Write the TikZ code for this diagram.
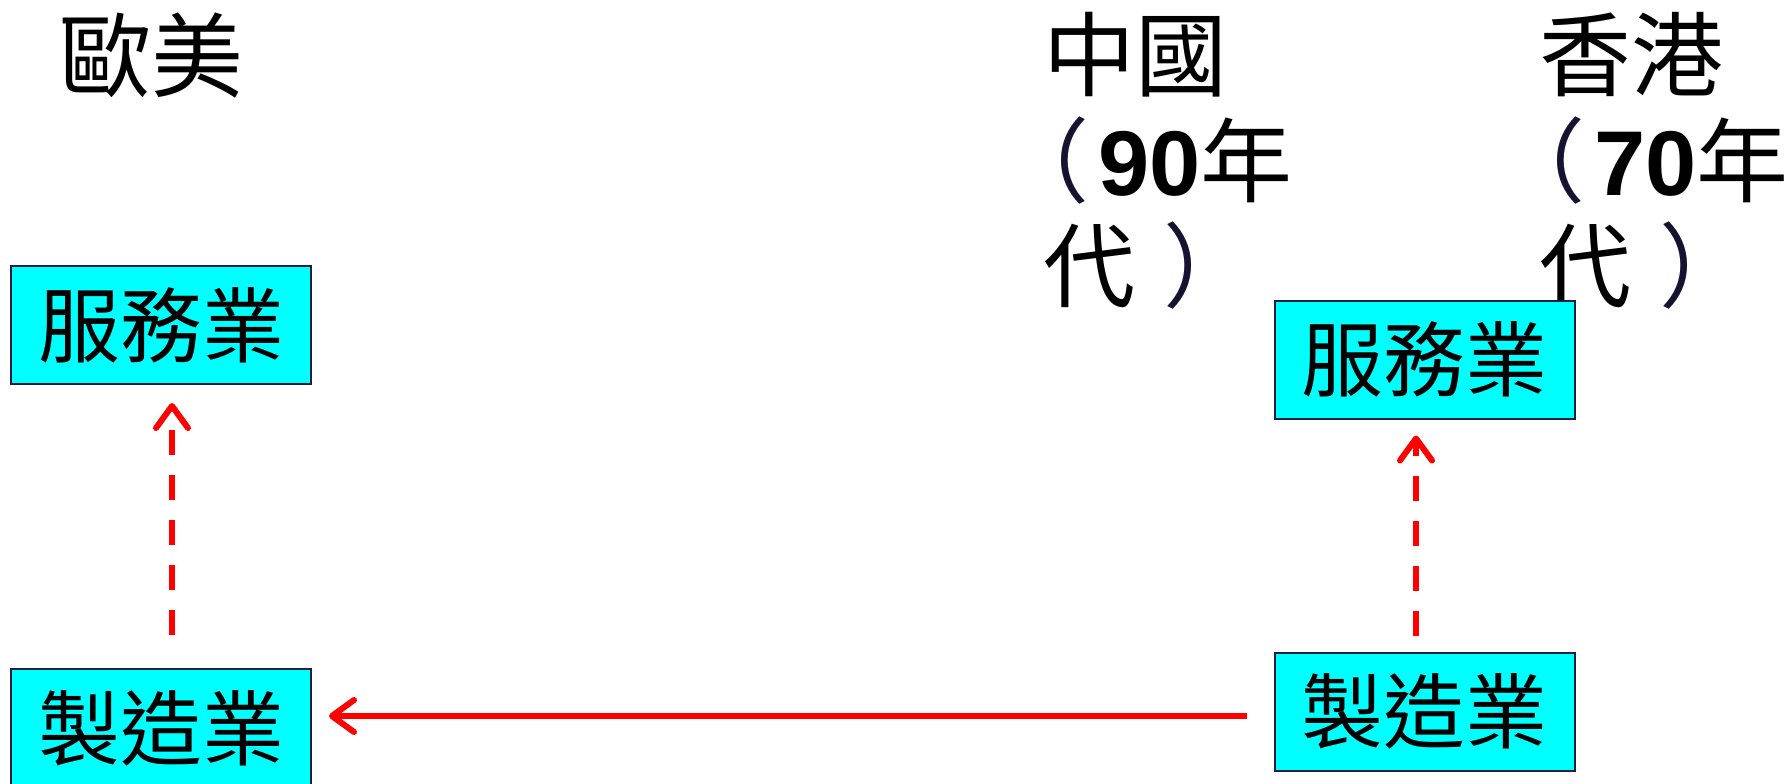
\documentclass[tikz,border=0pt]{standalone}
\usepackage{fontspec}
\newfontfamily\cjk{Noto Sans CJK TC}
\newfontfamily\lat{Liberation Sans}
\usetikzlibrary{arrows.meta}
\definecolor{boxcyan}{RGB}{0,255,255}
\definecolor{boxline}{RGB}{30,30,60}
\definecolor{arrred}{RGB}{255,0,0}
\definecolor{parcol}{RGB}{20,20,50}
\newcommand{\lp}{\kern-0.5em\textcolor{parcol}{（}\kern0.1em}
\newcommand{\rp}{\kern0.3em\textcolor{parcol}{）}}
\begin{document}
\begin{tikzpicture}[x=0.5pt,y=-0.5pt,
  hdr/.style={anchor=north west,inner sep=0pt,align=left,font=\cjk\fontsize{46pt}{52.75pt}\selectfont},
  ind/.style={draw=boxline,line width=1pt,fill=boxcyan,minimum width=150pt,minimum height=59pt,inner sep=0pt,font=\cjk\fontsize{41pt}{41pt}\selectfont},
  flow/.style={draw=arrred,line width=3pt,-{Straight Barb[length=11pt,width=16pt,line cap=round,line join=round]}},
  shiftarr/.style={flow,dash pattern=on 12.5pt off 10pt}
]
\useasboundingbox (0,0) rectangle (1791,783);
% headings
\node[hdr] (eu) at (59,12) {歐美};
\node[hdr] (cn) at (1043,12) {中國\\\lp{\lat\bfseries 90}年\\代\rp};
\node[hdr] (hk) at (1539,12) {香港\\\lp{\lat\bfseries 70}年\\代\rp};
% boxes
\node[ind] (s1) at (161,325) {服務業};
\node[ind] (m1) at (161,728) {製造業};
\node[ind] (s2) at (1424.5,359.5) {服務業};
\node[ind] (m2) at (1424.5,711.5) {製造業};
% connectors
\draw[shiftarr,shorten <=16.5pt,shorten >=9pt] ([xshift=5.5pt]m1.north) -- ([xshift=5.5pt]s1.south);
\draw[shiftarr,shorten <=8pt,shorten >=8pt] ([xshift=-4.25pt]m2.north) -- ([xshift=-4.25pt]s2.south);
\draw[flow,shorten <=13.5pt,shorten >=8.5pt] ([yshift=-2.25pt]m2.west) -- ([yshift=-2.25pt]m2.west -| m1.east);
\end{tikzpicture}
\end{document}
